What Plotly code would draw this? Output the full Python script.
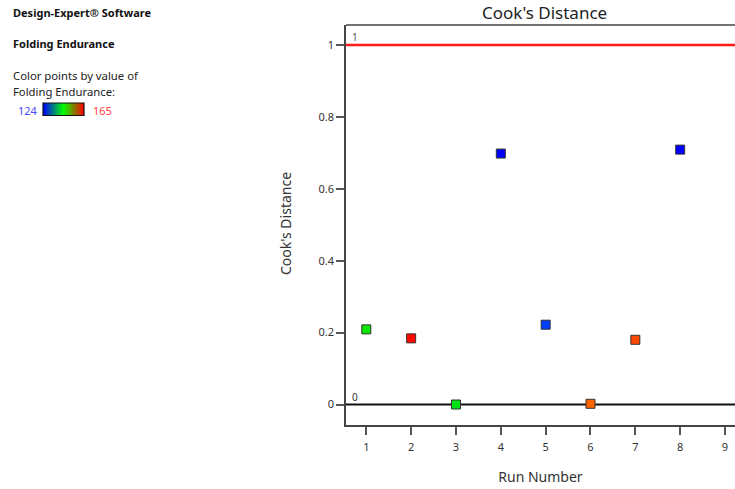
import numpy as np
import plotly.graph_objects as go

# ---- data ----
run_number = [1, 2, 3, 4, 5, 6, 7, 8]
cooks_distance = [0.209, 0.184, 0.0, 0.698, 0.222, 0.002, 0.180, 0.709]
folding_endurance = [145, 164.5, 143.5, 124, 129, 157, 159, 124]
y_tick_vals = [0, 0.2, 0.4, 0.6, 0.8, 1]
y_tick_text = ["0", "0.2", "0.4", "0.6", "0.8", "1"]
x_tick_vals = [1, 2, 3, 4, 5, 6, 7, 8, 9]
fe_min, fe_max = 124, 165
upper_limit = 1
lower_limit = 0

W, H = 735, 489
T, B = 25, 64
PH = H - T - B
X0 = 346

def px_x(px):
    return px / W

def px_y(py):
    return (H - B - py) / PH

FONT = "Noto Sans"
pts_scale = [[0, "#0000ff"], [0.25, "#0080ff"], [0.5, "#00ee00"],
             [0.8, "#ff6600"], [1, "#ff0000"]]
bar_scale = [[0, "#0000ff"], [0.5, "#00ff00"], [1, "#ff0000"]]

fig = go.Figure()

# reference lines
fig.add_trace(go.Scatter(x=[0, 20], y=[upper_limit, upper_limit], mode="lines",
                         line=dict(color="#ff1a1a", width=2.5), hoverinfo="skip",
                         showlegend=False))
fig.add_trace(go.Scatter(x=[0, 20], y=[lower_limit, lower_limit], mode="lines",
                         line=dict(color="#111111", width=2), hoverinfo="skip",
                         showlegend=False))

fig.add_trace(go.Scatter(
    x=run_number, y=cooks_distance, mode="markers",
    marker=dict(symbol="square", size=9, color=folding_endurance,
                colorscale=pts_scale, cmin=fe_min, cmax=fe_max, showscale=False,
                line=dict(color="#333333", width=1)),
    showlegend=False))

# legend gradient bar
fig.add_trace(go.Heatmap(z=[np.linspace(fe_min, fe_max, 64)], colorscale=bar_scale,
                         zmin=fe_min, zmax=fe_max, showscale=False,
                         xaxis="x2", yaxis="y2", hoverinfo="skip"))

fig.update_layout(
    width=W, height=H,
    margin=dict(l=0, r=0, t=T, b=B),
    paper_bgcolor="white", plot_bgcolor="white",
    font=dict(family=FONT, color="#333333"),
    xaxis=dict(domain=[X0 / W, 1], range=[0.547, 9.223], tickvals=x_tick_vals,
               showgrid=False, zeroline=False, showline=True, linecolor="#444444",
               linewidth=1.5, ticks="outside", ticklen=8, tickwidth=1.5,
               ticklabelstandoff=3,
               tickcolor="#555555", tickfont=dict(size=11, color="#333333"),
               title=dict(text="Run Number", font=dict(size=14, color="#333333"),
                          standoff=19)),
    yaxis=dict(range=[-0.057, 1.0556], tickvals=y_tick_vals, ticktext=y_tick_text,
               showgrid=False, zeroline=False, showline=True, linecolor="#444444",
               linewidth=1.5, ticks="outside", ticklen=8, tickwidth=1.5,
               tickcolor="#555555", tickfont=dict(size=11, color="#333333")),
    xaxis2=dict(domain=[px_x(43), px_x(84)], anchor="y2", visible=False,
                range=[-0.5, 63.5]),
    yaxis2=dict(domain=[px_y(115.5), px_y(103)], anchor="x2", visible=False,
                range=[-0.5, 0.5]),
)

# top frame line
fig.add_shape(type="line", xref="paper", yref="paper", x0=X0 / W, x1=1, y0=1, y1=1,
              line=dict(color="#444444", width=1.5))
# bar border
fig.add_shape(type="rect", xref="paper", yref="paper", x0=px_x(43), x1=px_x(84),
              y0=px_y(115.5), y1=px_y(103), line=dict(color="#111111", width=1.2))

def ann(text, x, y, size, color="#222222", bold=False, xanchor="left", textangle=0):
    if bold:
        text = "<b>" + text + "</b>"
    fig.add_annotation(text=text, x=x, y=y, xref="paper", yref="paper",
                       showarrow=False, xanchor=xanchor, yanchor="middle",
                       textangle=textangle,
                       font=dict(family=FONT, size=size, color=color))

ann("Design-Expert® Software", px_x(11), px_y(13), 11, "#111111", bold=True)
ann("Folding Endurance", px_x(11), px_y(44), 11, "#111111", bold=True)
ann("Color points by value of", px_x(11), px_y(75), 11.3, "#222222")
ann("Folding Endurance:", px_x(11), px_y(91), 11.3, "#222222")
ann(str(fe_min), px_x(16), px_y(110), 11, "#4a4aff")
ann(str(fe_max), px_x(91), px_y(110), 11, "#ff4040")
ann("Cook's Distance", px_x(544), px_y(12), 17, "#222222", xanchor="center")
ann("Cook's Distance", px_x(285), px_y(224), 14, "#333333", xanchor="center", textangle=-90)
ann("1", px_x(350), px_y(37), 10, "#555555")
ann("0", px_x(350), px_y(397), 10, "#333333")

fig.write_html("out.html")
